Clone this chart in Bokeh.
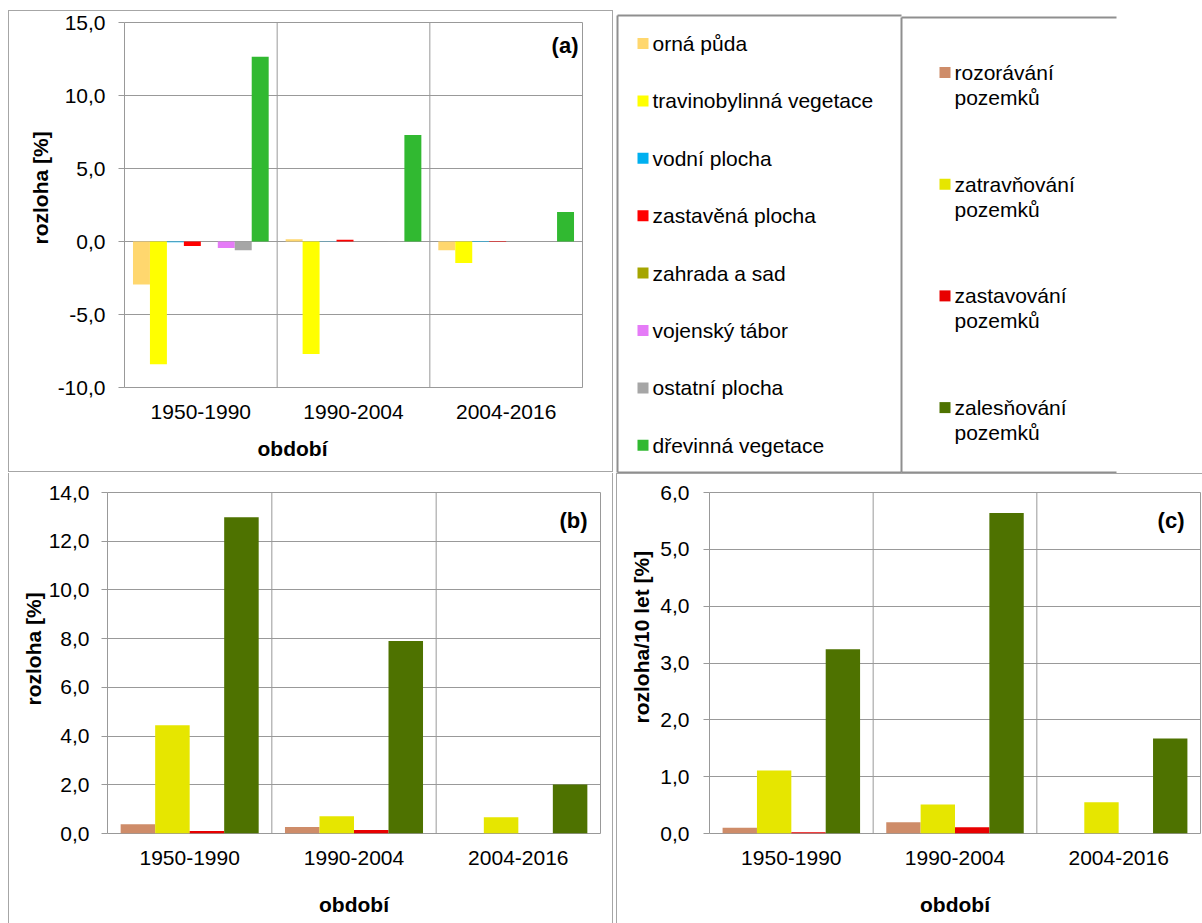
import numpy as np
from bokeh.plotting import figure
from bokeh.models import (Range1d, FactorRange, FixedTicker, CustomJSTickFormatter,
                          Span, Label, Title, ColumnDataSource)
from bokeh.transform import dodge
from bokeh.layouts import row, column
from bokeh.embed import file_html
from bokeh.resources import INLINE
from bokeh.core.properties import value

# ---------------- data ----------------
periods = ["1950-1990", "1990-2004", "2004-2016"]

land_names = ["orná půda", "travinobylinná vegetace", "vodní plocha", "zastavěná plocha",
              "zahrada a sad", "vojenský tábor", "ostatní plocha", "dřevinná vegetace"]
land_colors = ["#FFD76E", "#FFFF00", "#00B0F0", "#FF0000",
               "#A5A500", "#E57BF7", "#A6A6A6", "#31B931"]
orna_puda = [-2.95, 0.15, -0.60]
travinobylinna_vegetace = [-8.40, -7.70, -1.48]
vodni_plocha = [-0.05, 0.01, -0.03]
zastavena_plocha = [-0.30, 0.12, 0.03]
zahrada_a_sad = [0.0, 0.0, 0.0]
vojensky_tabor = [-0.45, 0.0, 0.0]
ostatni_plocha = [-0.60, -0.02, 0.0]
drevinna_vegetace = [12.65, 7.30, 2.02]
land_values = [orna_puda, travinobylinna_vegetace, vodni_plocha, zastavena_plocha,
               zahrada_a_sad, vojensky_tabor, ostatni_plocha, drevinna_vegetace]

change_names = ["rozorávání pozemků", "zatravňování pozemků",
                "zastavování pozemků", "zalesňování pozemků"]
change_colors = ["#CE8C69", "#E6E600", "#E80000", "#4E7200"]
# panel (b): area [%]
rozoravani_b = [0.38, 0.27, 0.0]
zatravnovani_b = [4.44, 0.71, 0.67]
zastavovani_b = [0.10, 0.14, 0.0]
zalesnovani_b = [12.98, 7.90, 2.01]
# panel (c): area per 10 years [%]
rozoravani_c = [0.10, 0.20, 0.0]
zatravnovani_c = [1.11, 0.51, 0.55]
zastavovani_c = [0.02, 0.11, 0.0]
zalesnovani_c = [3.24, 5.64, 1.67]

a_ticks = [-10, -5, 0, 5, 10, 15]
b_ticks = [0, 2, 4, 6, 8, 10, 12, 14]
c_ticks = [0, 1, 2, 3, 4, 5, 6]

x_title = "období"

# ---------------- style ----------------
FONT = "Liberation Sans"
FS = "21px"
GRID = "#999999"
FRAME = "#a6a6a6"


def frame_css(sides, color=FRAME):
    vec = {"left": (1, 0), "right": (-1, 0), "top": (0, 1), "bottom": (0, -1)}
    whites, grays = [], []
    for side, (gap, th) in sides.items():
        dx, dy = vec[side]
        if gap:
            whites.append(f"inset {dx*gap}px {dy*gap}px 0 0 #ffffff")
        grays.append(f"inset {dx*(gap+th)}px {dy*(gap+th)}px 0 0 {color}")
    return {"box-shadow": ", ".join(whites + grays)}


def bold_title(text, offset, standoff, **kw):
    return Title(text=text, align="left", offset=offset, standoff=standoff,
                 text_font=FONT, text_font_size=FS, text_font_style="bold",
                 text_color="#000000", **kw)


def bar_panel(width, height, borders, css, y0, y1, ticks, series, colors, bar_w,
              ylabel, ylab_offset, ylab_standoff, tick_standoff, tag, tag_dx, tag_dy,
              xlab_offset=None, xlab_standoff=25):
    p = figure(width=width, height=height,
               x_range=FactorRange(factors=periods), y_range=Range1d(y0, y1),
               output_backend="svg", toolbar_location=None,
               min_border_left=borders[0], min_border_right=borders[1],
               min_border_top=borders[2], min_border_bottom=borders[3],
               border_fill_alpha=0, background_fill_alpha=0,
               outline_line_color=GRID, outline_line_width=1,
               frame_align=False, styles=css)
    data = {"period": periods}
    for i, vals in enumerate(series):
        data[f"s{i}"] = vals
    src = ColumnDataSource(data)
    n = len(series)
    for i, col in enumerate(colors):
        off = (i - (n - 1) / 2) * bar_w
        p.vbar(x=dodge("period", off, range=p.x_range), top=f"s{i}", bottom=0,
               width=bar_w, source=src, fill_color=col, line_color=None)

    tk = FixedTicker(ticks=ticks)
    ya = p.yaxis[0]
    ya.ticker = tk
    p.ygrid.ticker = tk
    ya.formatter = CustomJSTickFormatter(code="return tick.toFixed(1).replace('.', ',');")
    ya.axis_line_color = None
    ya.major_tick_line_color = GRID
    ya.major_tick_out = 6
    ya.major_tick_in = 0
    ya.minor_tick_line_color = None
    ya.major_label_text_font = FONT
    ya.major_label_text_font_size = FS
    ya.major_label_text_color = "#000000"
    ya.major_label_standoff = tick_standoff
    p.ygrid.grid_line_color = GRID
    p.ygrid.grid_line_width = 1
    p.xgrid.grid_line_color = None
    p.add_layout(bold_title(ylabel, ylab_offset, ylab_standoff, vertical_align="middle"), "left")

    xa = p.xaxis[0]
    xa.axis_line_color = None
    xa.major_tick_line_color = None
    xa.major_tick_out = 0
    xa.major_tick_in = 0
    xa.minor_tick_line_color = None
    xa.major_label_text_font = FONT
    xa.major_label_text_font_size = FS
    xa.major_label_text_color = "#000000"
    xa.major_label_standoff = 17
    if xlab_offset is None:
        xa.axis_label = x_title
        xa.axis_label_text_font = FONT
        xa.axis_label_text_font_size = FS
        xa.axis_label_text_font_style = "bold"
        xa.axis_label_text_color = "#000000"
        xa.axis_label_standoff = xlab_standoff
    else:
        p.add_layout(bold_title(x_title, xlab_offset, xlab_standoff), "below")

    for k in range(1, len(periods)):
        p.add_layout(Span(location=k, dimension="height", line_color=GRID, line_width=1))

    p.add_layout(Label(x=len(periods), y=y1, x_offset=-tag_dx, y_offset=-tag_dy, text=tag,
                       text_align="right", text_baseline="middle", text_font=FONT,
                       text_font_size="22px", text_font_style="bold", text_color="#000000"))
    return p


# panel (a): page box x 0..614, y 0..473
fig_a = bar_panel(614, 473, (124, 32, 22, 85),
                  frame_css({"left": (8, 1), "top": (10, 1), "right": (1, 1), "bottom": (1, 1)}),
                  -10, 15, a_ticks, land_values, land_colors, 1 / 9,
                  "rozloha [%]", 143, 4, 13, "(a)", 4, 23, xlab_offset=133, xlab_standoff=27)

# panel (b): page box x 0..616, y 473..923
fig_b = bar_panel(616, 450, (107, 16, 19, 90),
                  frame_css({"left": (8, 1), "right": (3, 1)}),
                  0, 14, b_ticks,
                  [rozoravani_b, zatravnovani_b, zastavovani_b, zalesnovani_b],
                  change_colors, 0.21, "rozloha [%]", 128, 0, 12, "(b)", 13, 28,
                  xlab_standoff=25)

# panel (c): page box x 616..1202, y 473..923
fig_c = bar_panel(586, 450, (93, 2, 19, 90),
                  frame_css({"left": (0, 1), "top": (0, 1)}),
                  0, 6, c_ticks,
                  [rozoravani_c, zatravnovani_c, zastavovani_c, zalesnovani_c],
                  change_colors, 0.21, "rozloha/10 let [%]", 110, 8, 14, "(c)", 16, 28,
                  xlab_standoff=25)

# legend boxes: page coordinates x 614..1202, y 0..473
leg = figure(width=588, height=473, x_range=Range1d(614, 1202), y_range=Range1d(473, 0),
             output_backend="svg", toolbar_location=None, x_axis_type=None, y_axis_type=None,
             min_border=0, outline_line_color=None, border_fill_alpha=0, background_fill_alpha=0,
             frame_align=False)

BOX1 = (617, 15, 901, 472)
BOX2 = (901, 17, 1116, 472)
LEG_LINE = "#8f8f8f"
leg.segment(x0=[BOX1[0], BOX1[0], BOX1[0], BOX2[0], BOX2[0], BOX2[0]],
            y0=[BOX1[1], BOX1[1], BOX1[3], BOX2[1], BOX2[1], BOX2[3]],
            x1=[BOX1[2], BOX1[0], BOX1[2], BOX2[2], BOX2[0], BOX2[2]],
            y1=[BOX1[1], BOX1[3], BOX1[3], BOX2[1], BOX2[3], BOX2[3]],
            line_color=LEG_LINE, line_width=2)

L1_Y0, L1_STEP = 43, 57.4
ys1 = [L1_Y0 + i * L1_STEP for i in range(len(land_names))]
leg.scatter(x=[642.5] * len(ys1), y=ys1, marker="square", size=11,
            fill_color=land_colors, line_color=None)
leg.text(x=[652] * len(ys1), y=ys1, text=land_names, text_font=value(FONT),
         text_font_size=value(FS), text_baseline="middle", text_align="left",
         text_color="#000000")

L2_Y0, L2_STEP, L2_LINE = 72, 111.7, 25
ys2 = [L2_Y0 + i * L2_STEP for i in range(len(change_names))]
first = [n.split(" ")[0] for n in change_names]
second = [" ".join(n.split(" ")[1:]) for n in change_names]
leg.scatter(x=[944.5] * len(ys2), y=ys2, marker="square", size=11,
            fill_color=change_colors, line_color=None)
leg.text(x=[954] * len(ys2), y=ys2, text=first, text_font=value(FONT),
         text_font_size=value(FS), text_baseline="middle", text_align="left",
         text_color="#000000")
leg.text(x=[954] * len(ys2), y=[y + L2_LINE for y in ys2], text=second, text_font=value(FONT),
         text_font_size=value(FS), text_baseline="middle", text_align="left",
         text_color="#000000")

layout = column(row(fig_a, leg), row(fig_b, fig_c))
open("out.html", "w").write(file_html(layout, INLINE))
